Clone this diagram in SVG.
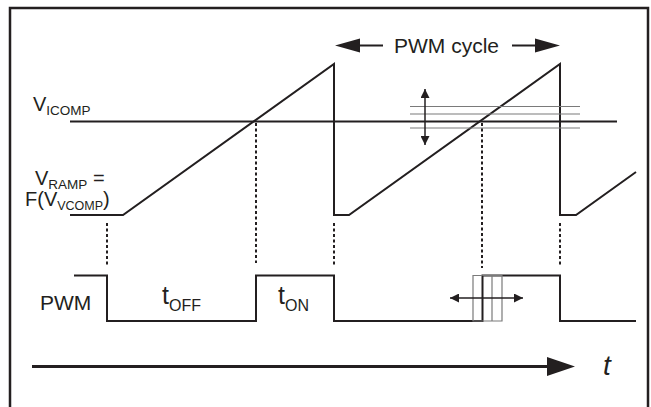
<svg xmlns="http://www.w3.org/2000/svg" width="651" height="407" viewBox="0 0 651 407">
<style>
.ln{fill:none;stroke:#231f20;stroke-width:2;stroke-linejoin:miter}
.dot{fill:none;stroke:#231f20;stroke-width:2;stroke-dasharray:3 2.5}
.gr{fill:none;stroke:#7a7a7a;stroke-width:1.2}
.t{font-family:"Liberation Sans",Arial,sans-serif;fill:#231f20}
.ah{fill:#231f20}
</style>
<defs>
<marker id="sm" viewBox="0 0 10 10" refX="10" refY="5" markerWidth="10" markerHeight="9" markerUnits="userSpaceOnUse" orient="auto-start-reverse">
<path d="M0,0 L10,5 L0,10 Z" class="ah"/>
</marker>
</defs>
<rect x="10" y="8" width="638" height="410" fill="#fff" stroke="#231f20" stroke-width="2.5"/>

<g id="ramp">
<polyline class="ln" points="70,215 123,215 334,64 334,215 349,215 560,64 560,215 576,215 636,172"/>
</g>
<g id="vicomp-line">
<line class="ln" x1="70" y1="121.5" x2="617" y2="121.5"/>
<line class="gr" x1="410" y1="106.5" x2="580" y2="106.5"/>
<line class="gr" x1="410" y1="114" x2="580" y2="114"/>
<line class="gr" x1="410" y1="128" x2="580" y2="128"/>
<line x1="425" y1="89" x2="425" y2="145" stroke="#231f20" stroke-width="1.5" marker-start="url(#sm)" marker-end="url(#sm)"/>
</g>
<g id="connectors">
<line class="dot" x1="107" y1="223" x2="107" y2="266"/>
<line class="dot" x1="256" y1="123" x2="256" y2="263"/>
<line class="dot" x1="334" y1="223" x2="334" y2="266"/>
<line class="dot" x1="482" y1="123" x2="482" y2="268"/>
<line class="dot" x1="560" y1="223" x2="560" y2="266"/>
</g>
<g id="pwm">
<polyline class="ln" points="74,275.5 107,275.5 107,321 256,321 256,275.5 334,275.5 334,321 482.5,321 482.5,275.5 560,275.5 560,321 636,321"/>
<polyline class="gr" points="482.5,275.5 473,275.5 473,321 482.5,321"/>
<line class="gr" x1="492" y1="275.5" x2="492" y2="321"/>
<polyline class="gr" points="482.5,275.5 502,275.5 502,321 482.5,321"/>
<line x1="450" y1="298" x2="523" y2="298" stroke="#231f20" stroke-width="1.5" marker-start="url(#sm)" marker-end="url(#sm)"/>
</g>
<g id="pwm-cycle">
<line x1="340" y1="45.5" x2="383" y2="45.5" stroke="#231f20" stroke-width="2"/>
<path class="ah" d="M335,45.5 L360,38.5 L360,52.5 Z"/>
<line x1="512" y1="45.5" x2="555" y2="45.5" stroke="#231f20" stroke-width="2"/>
<path class="ah" d="M560,45.5 L535,38.5 L535,52.5 Z"/>
<text class="t" x="394" y="52.5" font-size="21">PWM cycle</text>
</g>
<g id="time-axis">
<line x1="32" y1="366.5" x2="550" y2="366.5" stroke="#231f20" stroke-width="3"/>
<path class="ah" d="M575,366.5 L547,357 L547,376 Z"/>
<text class="t" x="603" y="375" font-size="28" font-style="italic">t</text>
</g>
<g id="labels">
<text class="t" x="33" y="111" font-size="20">V<tspan font-size="13.5" dy="4">ICOMP</tspan></text>
<text class="t" x="35" y="185" font-size="20">V<tspan font-size="13.5" dy="4">RAMP</tspan><tspan dy="-4"> =</tspan></text>
<text class="t" x="25" y="206" font-size="20">F(V<tspan font-size="12.5" dy="4">VCOMP</tspan><tspan dy="-4">)</tspan></text>
<text class="t" x="40" y="310" font-size="21">PWM</text>
<text class="t" x="162" y="304" font-size="25">t<tspan font-size="16" dy="7">OFF</tspan></text>
<text class="t" x="278" y="304" font-size="25">t<tspan font-size="16" dy="7">ON</tspan></text>
</g>
</svg>
